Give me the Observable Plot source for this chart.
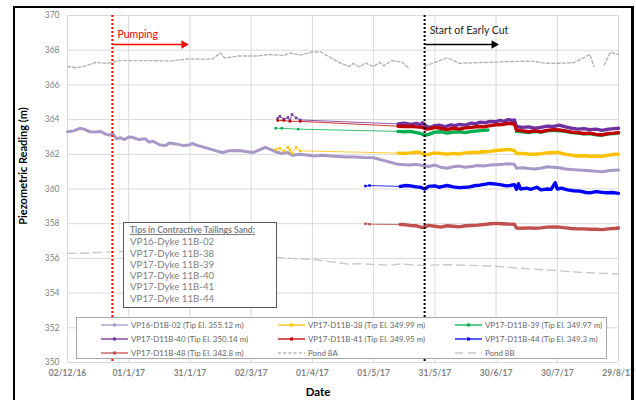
<!DOCTYPE html>
<html>
<head>
<meta charset="utf-8">
<script src="https://cdn.jsdelivr.net/npm/d3@7"></script>
<script src="https://cdn.jsdelivr.net/npm/@observablehq/plot@0.6"></script>
<style>
  html, body { margin: 0; padding: 0; background: #fff; }
  body { width: 636px; height: 400px; overflow: hidden; position: relative; font-family: Lato, "Open Sans", sans-serif; }
  #frame { position: absolute; left: 13px; top: 6px; width: 621px; height: 420px; border-left: 2px solid #000; border-top: 2px solid #000; border-right: 3px solid #000; box-sizing: border-box; pointer-events: none; }
  #chart { position: absolute; left: 0; top: 0; }
  #ytitle { position: absolute; left: 22px; top: 166px; transform: translate(-50%, -50%) rotate(-90deg); font-weight: bold; font-size: 11px; color: #000; white-space: nowrap; }
  #xtitle { position: absolute; left: 318px; top: 385px; transform: translateX(-50%); font-weight: bold; font-size: 11.5px; line-height: 13px; color: #000; }
  #note { position: absolute; left: 123px; top: 222px; width: 154px; height: 86px; box-sizing: border-box; border: 1.5px solid #595959; background: #fff; padding: 2px 0 0 6px; color: #7f7f7f; font-size: 9.7px; line-height: 11.3px; }
  #note .t { font-weight: bold; text-decoration: underline; font-size: 8.6px; margin-bottom: 0px; }
  #legend { position: absolute; left: 76px; top: 317px; width: 531px; height: 42px; box-sizing: border-box; border: 1px solid #a6a6a6; background: #fff; }
  .li { position: absolute; height: 10px; font-size: 7.9px; color: #666; white-space: nowrap; display: flex; align-items: center; }
  .li svg { margin-right: 3px; }
</style>
</head>
<body>
<div id="chart"></div>
<div id="note"></div>
<div id="legend"></div>
<div id="ytitle">Piezometric Reading (m)</div>
<div id="xtitle">Date</div>
<div id="frame"></div>
<script>
// ---------- axis ticks ----------
const xTickDates = ["2016-12-02","2017-01-01","2017-01-31","2017-03-02","2017-04-01","2017-05-01","2017-05-31","2017-06-30","2017-07-30","2017-08-29"];
const xTickLabels = ["02/12/16","01/1/17","31/1/17","02/3/17","01/4/17","01/5/17","31/5/17","30/6/17","30/7/17","29/8/17"];
const yTicks = [350,352,354,356,358,360,362,364,366,368,370];

// ---------- events ----------
const eventNames = ["Pumping", "Start of Early Cut"];
const eventDates = ["2016-12-24", "2017-05-26"];
const eventArrowEnds = ["2017-01-29", "2017-06-30"];

// ---------- note box ----------
const noteTitle = "Tips in Contractive Tailings Sand:";
const noteItems = ["VP16-Dyke 11B-02","VP17-Dyke 11B-38","VP17-Dyke 11B-39","VP17-Dyke 11B-40","VP17-Dyke 11B-41","VP17-Dyke 11B-44"];

// ---------- series readings (date, elevation m) ----------
const vp16_02 = [
 ["2016-12-02",363.3],["2016-12-05",363.35],["2016-12-08",363.5],["2016-12-10",363.45],["2016-12-13",363.3],["2016-12-16",363.28],
 ["2016-12-18",363.32],["2016-12-21",363.15],["2016-12-23",363.1],["2016-12-24",363.2],["2016-12-26",362.9],["2016-12-28",362.95],
 ["2016-12-30",362.85],["2017-01-01",363.0],["2017-01-03",362.98],["2017-01-06",362.85],["2017-01-09",362.9],["2017-01-11",362.7],
 ["2017-01-13",362.75],["2017-01-16",362.55],["2017-01-19",362.5],["2017-01-21",362.65],["2017-01-24",362.6],["2017-01-28",362.5],
 ["2017-01-31",362.55],["2017-02-01",362.62],["2017-02-04",362.5],["2017-02-07",362.4],["2017-02-10",362.3],["2017-02-13",362.2],
 ["2017-02-16",362.1],["2017-02-19",362.2],["2017-02-22",362.22],["2017-02-25",362.2],["2017-02-28",362.15],["2017-03-03",362.1],
 ["2017-03-06",362.25],["2017-03-09",362.4],["2017-03-11",362.3],["2017-03-14",362.15],["2017-03-17",362.05],["2017-03-20",362.1],
 ["2017-03-22",361.95],["2017-03-26",362.0],["2017-03-30",361.95],["2017-04-02",361.9],["2017-04-06",361.95],["2017-04-10",361.9],
 ["2017-04-14",361.88],["2017-04-18",361.85],["2017-04-22",361.85],["2017-04-26",361.82],["2017-05-01",361.8],
 ["2017-05-13",361.42],["2017-05-16",361.4],["2017-05-19",361.38],["2017-05-22",361.42],["2017-05-25",361.35],["2017-05-28",361.3],
 ["2017-05-31",361.38],["2017-06-03",361.25],["2017-06-06",361.2],["2017-06-09",361.28],["2017-06-12",361.32],["2017-06-15",361.25],
 ["2017-06-18",361.3],["2017-06-21",361.35],["2017-06-24",361.32],["2017-06-27",361.38],["2017-06-30",361.4],["2017-07-03",361.42],
 ["2017-07-06",361.45],["2017-07-09",361.42],["2017-07-10",361.2],["2017-07-13",361.22],["2017-07-16",361.18],["2017-07-19",361.15],
 ["2017-07-22",361.2],["2017-07-25",361.28],["2017-07-28",361.25],["2017-07-31",361.22],["2017-08-03",361.15],["2017-08-06",361.12],
 ["2017-08-09",361.1],["2017-08-12",361.08],["2017-08-15",361.05],["2017-08-18",361.02],["2017-08-21",361.0],["2017-08-24",361.05],
 ["2017-08-27",361.08],["2017-08-29",361.1]
];
const vp17_38 = [
 ["2017-03-14",362.27],["2017-03-16",362.34],["2017-03-18",362.17],["2017-03-20",362.4],["2017-03-21",362.25],["2017-03-22",362.05],
 ["2017-03-24",362.4],["2017-03-26",362.2],
 ["2017-05-13",362.07],["2017-05-16",362.05],["2017-05-19",362.08],["2017-05-22",362.12],["2017-05-24",362.1],["2017-05-26",361.95],
 ["2017-05-28",362.0],["2017-05-31",362.08],["2017-06-03",362.05],["2017-06-06",362.0],["2017-06-09",362.05],["2017-06-12",362.02],
 ["2017-06-15",362.08],["2017-06-18",362.1],["2017-06-21",362.12],["2017-06-24",362.15],["2017-06-27",362.17],["2017-06-30",362.22],
 ["2017-07-03",362.25],["2017-07-06",362.28],["2017-07-09",362.22],["2017-07-10",362.05],["2017-07-13",362.05],["2017-07-16",362.02],
 ["2017-07-19",362.0],["2017-07-22",362.03],["2017-07-25",362.08],["2017-07-28",362.1],["2017-07-31",362.1],["2017-08-03",362.0],
 ["2017-08-06",361.95],["2017-08-09",361.9],["2017-08-12",361.92],["2017-08-15",361.88],["2017-08-18",361.9],["2017-08-21",361.88],
 ["2017-08-24",361.95],["2017-08-27",362.0],["2017-08-29",362.0]
];
const vp17_39 = [
 ["2017-03-14",363.5],["2017-03-17",363.5],["2017-03-25",363.45],
 ["2017-05-13",363.32],["2017-05-16",363.3],["2017-05-19",363.32],["2017-05-22",363.25],["2017-05-24",363.2],["2017-05-26",363.1],
 ["2017-05-28",363.15],["2017-05-31",363.28],["2017-06-03",363.3],["2017-06-06",363.22],["2017-06-09",363.28],["2017-06-12",363.3],
 ["2017-06-15",363.25],["2017-06-18",363.32],["2017-06-21",363.35],["2017-06-24",363.38],["2017-06-26",363.4],["2017-07-01",null],
 ["2017-07-10",363.32],["2017-07-13",363.3],["2017-07-16",363.25],["2017-07-19",363.32],["2017-07-22",363.28],["2017-07-25",363.35],
 ["2017-07-28",363.38],["2017-07-31",363.36],["2017-08-03",363.32],["2017-08-06",363.25],["2017-08-09",363.22],["2017-08-12",363.18],
 ["2017-08-15",363.2],["2017-08-18",363.12],["2017-08-21",363.1],["2017-08-24",363.18],["2017-08-27",363.2],["2017-08-29",363.22]
];
const vp17_40 = [
 ["2017-03-15",364.07],["2017-03-16",364.19],["2017-03-18",364.03],["2017-03-20",364.12],["2017-03-21",363.95],["2017-03-22",364.3],
 ["2017-03-24",364.1],["2017-03-26",363.98],
 ["2017-05-13",363.75],["2017-05-16",363.8],["2017-05-19",363.72],["2017-05-22",363.78],["2017-05-24",363.7],["2017-05-25",363.82],
 ["2017-05-27",363.6],["2017-05-29",363.55],["2017-05-31",363.65],["2017-06-02",363.68],["2017-06-05",363.6],["2017-06-08",363.7],
 ["2017-06-10",363.65],["2017-06-12",363.72],["2017-06-15",363.68],["2017-06-18",363.8],["2017-06-20",363.75],["2017-06-22",363.85],
 ["2017-06-25",363.82],["2017-06-27",363.9],["2017-06-30",363.88],["2017-07-02",363.95],["2017-07-04",363.9],["2017-07-06",364.0],
 ["2017-07-08",363.95],["2017-07-09",363.98],["2017-07-10",363.6],["2017-07-13",363.55],["2017-07-16",363.58],["2017-07-19",363.5],
 ["2017-07-22",363.55],["2017-07-25",363.62],["2017-07-28",363.6],["2017-07-31",363.68],["2017-08-03",363.58],["2017-08-06",363.5],
 ["2017-08-09",363.45],["2017-08-12",363.48],["2017-08-15",363.42],["2017-08-18",363.45],["2017-08-21",363.38],["2017-08-24",363.45],
 ["2017-08-27",363.48],["2017-08-29",363.5]
];
const vp17_41 = [
 ["2017-03-15",363.95],["2017-03-18",363.95],["2017-03-21",363.9],["2017-03-26",363.9],
 ["2017-05-13",363.62],["2017-05-16",363.6],["2017-05-19",363.62],["2017-05-22",363.58],["2017-05-25",363.55],["2017-05-27",363.45],
 ["2017-05-29",363.48],["2017-05-31",363.55],["2017-06-03",363.5],["2017-06-06",363.42],["2017-06-09",363.5],["2017-06-12",363.45],
 ["2017-06-15",363.52],["2017-06-18",363.55],["2017-06-21",363.6],["2017-06-24",363.58],["2017-06-27",363.65],["2017-06-30",363.7],
 ["2017-07-03",363.72],["2017-07-06",363.78],["2017-07-09",363.75],["2017-07-10",363.4],["2017-07-13",363.35],["2017-07-16",363.3],
 ["2017-07-19",363.35],["2017-07-22",363.3],["2017-07-25",363.38],["2017-07-28",363.42],["2017-07-31",363.4],["2017-08-03",363.35],
 ["2017-08-06",363.28],["2017-08-09",363.25],["2017-08-12",363.2],["2017-08-15",363.22],["2017-08-18",363.15],["2017-08-21",363.12],
 ["2017-08-24",363.2],["2017-08-27",363.22],["2017-08-29",363.25]
];
const vp17_44 = [
 ["2017-04-27",360.17],["2017-04-29",360.2],
 ["2017-05-14",360.15],["2017-05-17",360.2],["2017-05-19",360.18],["2017-05-22",360.12],["2017-05-24",360.1],["2017-05-26",360.0],
 ["2017-05-28",360.15],["2017-05-31",360.18],["2017-06-02",360.1],["2017-06-04",360.15],["2017-06-06",360.2],["2017-06-09",360.12],
 ["2017-06-12",360.08],["2017-06-15",360.1],["2017-06-17",360.12],["2017-06-20",360.2],["2017-06-22",360.22],["2017-06-25",360.28],
 ["2017-06-27",360.32],["2017-06-30",360.28],["2017-07-02",360.25],["2017-07-05",360.18],["2017-07-07",360.2],["2017-07-09",360.25],
 ["2017-07-10",359.98],["2017-07-11",360.3],["2017-07-12",360.0],["2017-07-15",360.05],["2017-07-17",359.98],["2017-07-20",360.1],
 ["2017-07-22",359.95],["2017-07-25",360.0],["2017-07-27",359.98],["2017-07-29",360.36],["2017-07-30",360.0],["2017-08-01",360.05],
 ["2017-08-04",359.95],["2017-08-07",359.9],["2017-08-10",359.88],["2017-08-13",359.8],["2017-08-15",359.78],["2017-08-18",359.85],
 ["2017-08-20",359.82],["2017-08-23",359.78],["2017-08-26",359.8],["2017-08-29",359.75]
];
const vp17_48 = [
 ["2017-04-27",358.0],["2017-04-29",357.97],
 ["2017-05-14",357.95],["2017-05-16",357.95],["2017-05-19",357.9],["2017-05-22",357.88],["2017-05-25",357.78],["2017-05-28",357.9],
 ["2017-05-31",357.85],["2017-06-03",357.8],["2017-06-06",357.88],["2017-06-09",357.85],["2017-06-12",357.82],["2017-06-15",357.88],
 ["2017-06-18",357.9],["2017-06-21",357.92],["2017-06-24",357.95],["2017-06-27",358.0],["2017-06-30",358.02],["2017-07-03",358.0],
 ["2017-07-06",357.98],["2017-07-09",357.97],["2017-07-10",357.75],["2017-07-13",357.74],["2017-07-16",357.76],["2017-07-19",357.74],
 ["2017-07-22",357.76],["2017-07-25",357.8],["2017-07-28",357.82],["2017-07-31",357.8],["2017-08-03",357.76],["2017-08-06",357.72],
 ["2017-08-09",357.7],["2017-08-12",357.7],["2017-08-15",357.68],["2017-08-18",357.68],["2017-08-21",357.66],["2017-08-24",357.7],
 ["2017-08-27",357.72],["2017-08-29",357.75]
];
const pond8A = [
 ["2016-12-02",367.06],["2016-12-06",366.99],["2016-12-11",367.1],["2016-12-16",367.3],["2016-12-21",367.24],["2016-12-24",367.3],
 ["2016-12-27",367.4],["2017-01-01",367.4],["2017-01-11",367.4],["2017-01-21",367.38],["2017-01-31",367.5],["2017-02-07",367.48],
 ["2017-02-11",367.5],["2017-02-15",367.85],["2017-02-17",367.55],["2017-02-24",367.67],["2017-03-05",367.67],["2017-03-11",367.75],
 ["2017-03-18",367.7],["2017-03-21",367.84],["2017-03-26",367.72],["2017-04-01",367.9],["2017-04-05",367.9],["2017-04-09",367.64],
 ["2017-04-14",367.3],["2017-04-19",367.06],["2017-04-21",367.24],["2017-04-24",367.03],["2017-04-27",367.27],["2017-05-01",367.05],
 ["2017-05-04",367.3],["2017-05-06",367.1],["2017-05-10",367.4],["2017-05-15",367.3],["2017-05-18",366.99],["2017-05-22",null],
 ["2017-05-26",367.08],["2017-06-06",367.56],["2017-06-12",367.25],["2017-06-27",367.3],["2017-07-07",367.35],["2017-07-18",367.37],
 ["2017-07-24",367.25],["2017-07-31",367.25],["2017-08-07",367.28],["2017-08-11",367.5],["2017-08-15",367.76],["2017-08-17",367.05],
 ["2017-08-20",null],["2017-08-22",367.15],["2017-08-25",367.88],["2017-08-29",367.75]
];
const pond8B = [
 ["2016-12-02",356.29],["2016-12-11",356.3],["2016-12-21",356.36],["2016-12-27",356.4],["2017-03-15",356.06],["2017-03-21",356.0],
 ["2017-04-01",355.94],["2017-04-19",355.67],["2017-04-24",355.7],["2017-05-09",355.6],["2017-05-14",355.68],["2017-05-25",355.6],
 ["2017-06-06",355.64],["2017-06-30",355.55],["2017-07-10",355.45],["2017-07-29",355.3],["2017-08-10",355.2],["2017-08-29",355.1]
];

const seriesNames = [
 "VP16-D1B-02 (Tip El. 355.12 m)", "VP17-D11B-38 (Tip El. 349.99  m)", "VP17-D11B-39 (Tip El. 349.97 m)",
 "VP17-D11B-40 (Tip El. 350.14 m)", "VP17-D11B-41 (Tip El. 349.95 m)", "VP17-D11B-44 (Tip El. 349.3 m)",
 "VP17-D11B-48 (Tip El. 342.8 m)", "Pond 8A", "Pond 8B"
];
const seriesData = [vp16_02, vp17_38, vp17_39, vp17_40, vp17_41, vp17_44, vp17_48, pond8A, pond8B];

// ---------- styles ----------
const seriesColors = ["#A898C8", "#FFC000", "#00B050", "#7030A0", "#C00000", "#0000FF", "#C0504D", "#B4B4B4", "#C8C8C8"];
const seriesDash = [null, null, null, null, null, null, null, "3,2.2", "8,5"];
const thickWidths = [3.0, 3.4, 3.4, 3.4, 3.4, 3.4, 3.4, 0, 0];
const loggerSpans = [
  [["2016-12-02","2017-05-01"],["2017-05-13","2017-08-29"]],
  [["2017-05-13","2017-08-29"]], [["2017-05-13","2017-08-29"]], [["2017-05-13","2017-08-29"]],
  [["2017-05-13","2017-08-29"]], [["2017-05-14","2017-08-29"]], [["2017-05-14","2017-08-29"]], [], []
];
const eventColors = ["#FF0000", "#000000"];
const eventTextColors = ["#FF0000", "#262626"];
const eventTextDy = [19, 15];

const parse = s => new Date(s + "T00:00:00Z");

const events = eventNames.map((n, i) => ({
  name: n, date: parse(eventDates[i]), end: parse(eventArrowEnds[i]), color: eventColors[i], tcolor: eventTextColors[i]
}));

const xTicks = xTickDates.map(parse);
const marks = [
  Plot.gridY(yTicks, {stroke: "#D9D9D9", strokeOpacity: 1, strokeWidth: 1}),
  Plot.gridX(xTicks, {stroke: "#D9D9D9", strokeOpacity: 1, strokeWidth: 1}),
  Plot.axisY({ticks: yTicks, tickSize: 0, tickPadding: 8, fill: "#7F7F7F", fontSize: 8.5, label: null}),
  Plot.axisX({ticks: xTicks, tickFormat: (d) => xTickLabels[xTicks.findIndex(t => +t === +d)], tickSize: 0, tickPadding: 7, fill: "#7F7F7F", fontSize: 8.5, fontWeight: "bold", label: null})
];

seriesData.forEach((pairs, i) => {
  const rows = pairs.map(([d, v]) => {
    const date = parse(d);
    const thick = loggerSpans[i].some(([a, b]) => date >= parse(a) && date <= parse(b));
    return {date, value: v, thick};
  });
  const color = seriesColors[i];
  if (seriesDash[i]) {
    marks.push(Plot.line(rows, {x: "date", y: "value", stroke: color, strokeWidth: 1.4, strokeDasharray: seriesDash[i]}));
    return;
  }
  marks.push(Plot.line(rows, {x: "date", y: "value", stroke: color, strokeWidth: 1, strokeOpacity: 0.8}));
  marks.push(Plot.dot(rows.filter(r => !r.thick && r.value != null), {x: "date", y: "value", fill: color, r: 1.4, symbol: "square"}));
  marks.push(Plot.line(rows, {x: "date", y: d => d.thick ? d.value : NaN, stroke: color, strokeWidth: thickWidths[i], strokeLinejoin: "round", strokeLinecap: "round"}));
});

// events
marks.push(Plot.ruleX(events, {x: "date", stroke: "color", strokeWidth: 2, strokeDasharray: "2,2"}));
marks.push(Plot.link(events, {x1: "date", x2: "end", y1: 370, y2: 370, dy: 29, stroke: "color", strokeWidth: 1.3}));
marks.push(Plot.dot(events, {x: "end", y: 370, dy: 29, dx: -2, symbol: "triangle", rotate: 90, r: 3.2, fill: "color", stroke: null}));
events.forEach((e, i) => {
  marks.push(Plot.text([e], {x: "date", text: "name", y: 370, dy: eventTextDy[i], dx: 5, textAnchor: "start", fill: "tcolor", fontSize: 10.5}));
});

const chart = Plot.plot({
  width: 636, height: 400,
  marginLeft: 67, marginRight: 18, marginTop: 15, marginBottom: 38,
  style: {fontFamily: "Lato, 'Open Sans', sans-serif", background: "transparent", overflow: "visible"},
  x: {type: "utc", domain: [xTicks[0], xTicks[xTicks.length - 1]]},
  y: {domain: [yTicks[0], yTicks[yTicks.length - 1]]},
  marks
});
document.getElementById("chart").appendChild(chart);

// note box
const note = document.getElementById("note");
note.innerHTML = `<div class="t">${noteTitle}</div>` + noteItems.map(t => `<div>${t}</div>`).join("");

// legend
const legend = document.getElementById("legend");
const colX = [24, 201, 378];
const rowY = [2, 16, 30];
const legendCol = [0,1,2,0,1,2,0,1,2];
const legendRow = [0,0,0,1,1,1,2,2,2];
seriesNames.forEach((name, i) => {
  const item = document.createElement("div");
  item.className = "li";
  item.style.left = colX[legendCol[i]] + "px";
  item.style.top = rowY[legendRow[i]] + "px";
  const c = seriesColors[i];
  let svg;
  if (seriesDash[i]) {
    svg = `<svg width="27" height="6"><line x1="0" y1="3" x2="27" y2="3" stroke="${c}" stroke-width="1.3" stroke-dasharray="${seriesDash[i]}"/></svg>`;
  } else {
    svg = `<svg width="27" height="6"><line x1="0" y1="3" x2="27" y2="3" stroke="${c}" stroke-width="1.3"/><rect x="12" y="1.5" width="3" height="3" fill="${c}"/></svg>`;
  }
  item.innerHTML = svg + `<span>${name}</span>`;
  legend.appendChild(item);
});
</script>
</body>
</html>
